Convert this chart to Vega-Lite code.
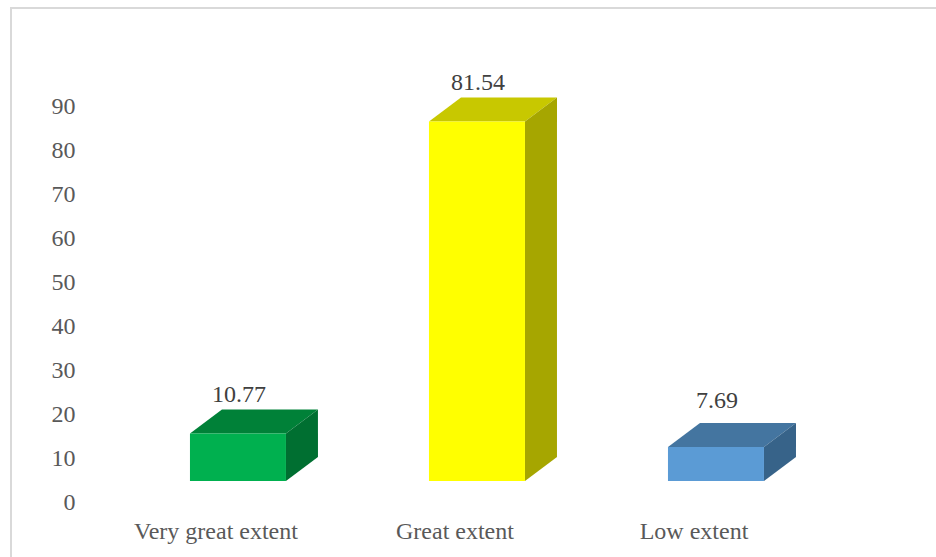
{
  "$schema": "https://vega.github.io/schema/vega-lite/v6.json",
  "width": 927,
  "height": 551,
  "autosize": {"type": "none"},
  "padding": {"left": 11, "top": 8, "right": -2, "bottom": -2},
  "background": "white",
  "config": {"view": {"stroke": "#d9d9d9", "strokeWidth": 2}},
  "data": {"values": [
    {"category": "Very great extent", "value": 10.77},
    {"category": "Great extent", "value": 81.54},
    {"category": "Low extent", "value": 7.69}
  ]},
  "encoding": {
    "x": {"field": "category", "type": "nominal", "sort": null, "title": null,
      "scale": {"paddingInner": 0, "paddingOuter": 0.4393, "align": 0.407},
      "axis": {"domain": false, "ticks": false, "grid": false, "labelAngle": 0, "labelPadding": 0, "offset": -40,
        "labelFont": "Liberation Serif", "labelFontSize": 24, "labelColor": "#595959"}},
    "y": {"field": "value", "type": "quantitative", "title": null,
      "scale": {"domain": [-12.7, 112.24], "nice": false, "zero": false},
      "axis": {"values": [0,10,20,30,40,50,60,70,80,90], "domain": false, "ticks": false, "grid": false, "labelPadding": 0, "offset": -64,
        "labelFont": "Liberation Serif", "labelFontSize": 24, "labelColor": "#595959"}}
  },
  "layer": [
    {
      "mark": {"type": "point", "filled": true, "opacity": 1, "size": 4, "xOffset": 22, "yOffset": -22, "strokeWidth": 0,
        "shape": "M-48 0L48 0L80 -24L-16 -24Z"},
      "encoding": {
        "color": {"field": "category", "type": "nominal", "legend": null,
          "scale": {"domain": ["Very great extent", "Great extent", "Low extent"], "range": ["#008138", "#c8c800", "#4475a0"]}}
      }
    },
    {
      "mark": {"type": "point", "filled": true, "opacity": 1, "size": 4, "xOffset": 22, "yOffset": -22, "strokeWidth": 0},
      "encoding": {
        "color": {"field": "category", "type": "nominal", "legend": null,
          "scale": {"domain": ["Very great extent", "Great extent", "Low extent"], "range": ["#006f31", "#a6a600", "#376389"]}},
        "shape": {"field": "category", "type": "nominal", "legend": null,
          "scale": {"domain": ["Very great extent", "Great extent", "Low extent"],
            "range": ["M48 0L80 -24L80 23.5L48 47.5Z", "M48 0L80 -24L80 335.6L48 359.6Z", "M48 0L80 -24L80 9.9L48 33.9Z"]}}
      }
    },
    {
      "mark": {"type": "bar", "size": 96, "xOffset": 22, "x2Offset": 22, "yOffset": -22, "y2Offset": -22},
      "encoding": {
        "y2": {"datum": 0},
        "color": {"field": "category", "type": "nominal", "legend": null,
          "scale": {"domain": ["Very great extent", "Great extent", "Low extent"], "range": ["#00b04f", "#ffff00", "#5b9bd5"]}}
      }
    },
    {
      "transform": [{"filter": "datum.category !== 'Low extent'"}],
      "mark": {"type": "text", "xOffset": 23, "yOffset": -60, "font": "Liberation Serif", "fontSize": 24, "color": "#404040", "baseline": "middle"},
      "encoding": {"text": {"field": "value", "type": "quantitative", "format": ".2f"}}
    },
    {
      "transform": [{"filter": "datum.category === 'Low extent'"}],
      "mark": {"type": "text", "xOffset": 23, "yOffset": -68, "font": "Liberation Serif", "fontSize": 24, "color": "#404040", "baseline": "middle"},
      "encoding": {"text": {"field": "value", "type": "quantitative", "format": ".2f"}}
    }
  ],
  "resolve": {"scale": {"color": "independent"}}
}
